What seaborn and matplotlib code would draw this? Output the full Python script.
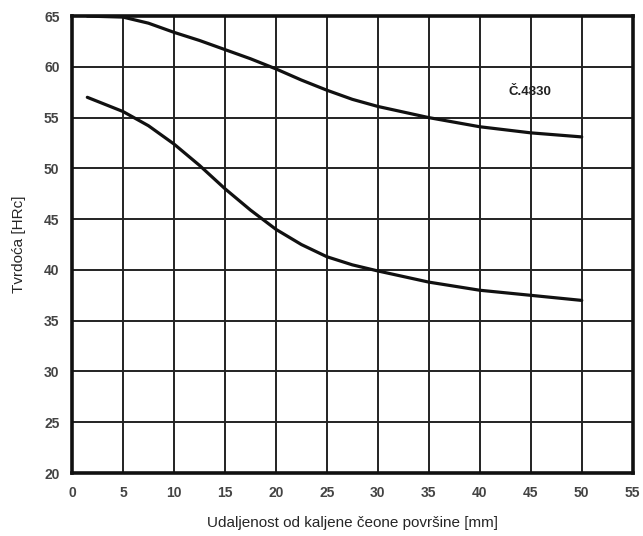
import numpy as np
import pandas as pd
import matplotlib.pyplot as plt
import seaborn as sns

# values
dist = [1.5, 5, 7.5, 10, 12.5, 15, 17.5, 20, 22.5, 25, 27.5, 30, 35, 40, 45, 50]
upper = [65.0, 64.9, 64.3, 63.4, 62.6, 61.7, 60.8, 59.8, 58.7, 57.7, 56.8, 56.1, 55.0, 54.1, 53.5, 53.1]
lower = [57.0, 55.6, 54.2, 52.4, 50.3, 48.0, 45.9, 44.0, 42.5, 41.3, 40.5, 39.9, 38.8, 38.0, 37.5, 37.0]

df = pd.DataFrame({'dist': dist * 2,
                   'hrc': upper + lower,
                   'curve': ['gornja'] * len(dist) + ['donja'] * len(dist)})

sns.set_style('white')
plt.rcParams['font.family'] = ['Liberation Sans', 'DejaVu Sans']

fig = plt.figure(figsize=(6.43, 5.36), dpi=100)
ax = fig.add_axes([0.112, 0.1175, 0.872, 0.8525])

sns.lineplot(data=df, x='dist', y='hrc', units='curve', estimator=None,
             color='#111111', linewidth=2.3, ax=ax, sort=False)
for ln in ax.lines:
    ln.set_solid_joinstyle('round')

ax.set_xlim(0, 55)
ax.set_ylim(20, 65)
ax.set_xticks(range(0, 56, 5))
ax.set_yticks(range(20, 66, 5))
ax.grid(True, color='#222222', linewidth=1.4)
ax.set_axisbelow(True)
for s in ax.spines.values():
    s.set_visible(True)
    s.set_color('#111111')
    s.set_linewidth(2.6)

ax.tick_params(length=0, pad=9, labelsize=10, labelcolor='#444444')
for lab in ax.get_xticklabels() + ax.get_yticklabels():
    lab.set_fontweight('bold')

ax.text(44.9, 57.5, 'Č.4830', fontsize=9.5, fontweight='bold', ha='center', va='center', color='#222222')

ax.set_xlabel('Udaljenost od kaljene čeone površine [mm]', fontsize=11, labelpad=12)
ax.set_ylabel('Tvrdoća [HRc]', fontsize=11, labelpad=13)

fig.savefig('out.png', dpi=100)
